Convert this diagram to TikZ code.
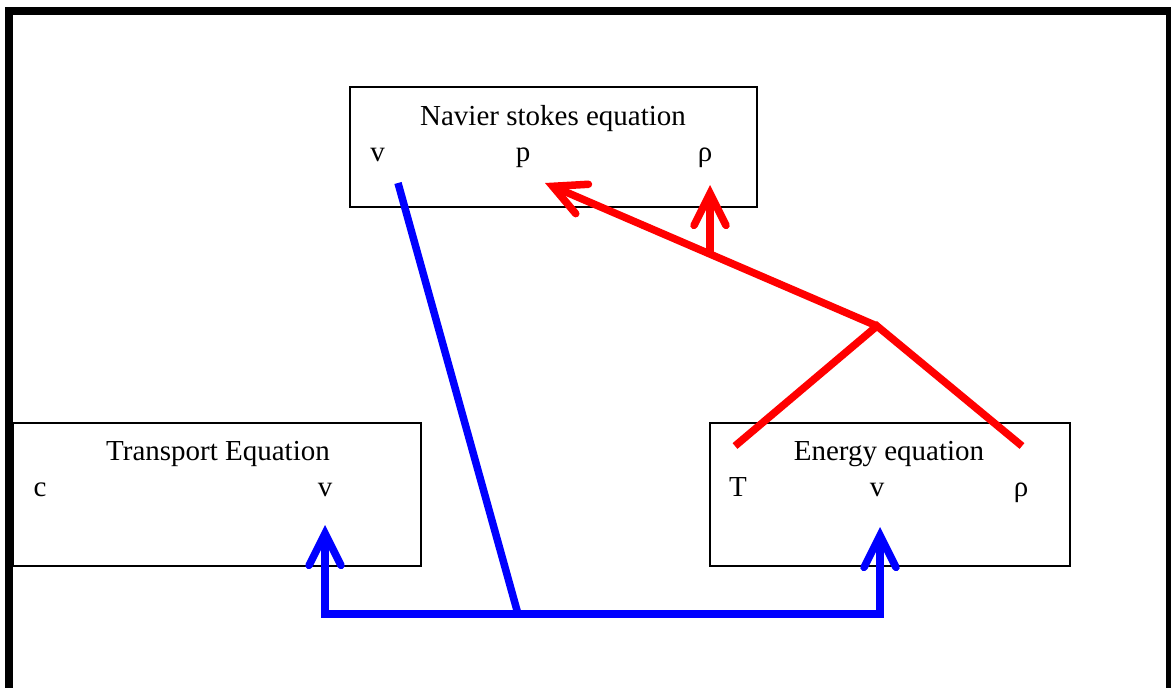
\documentclass[tikz,border=0pt]{standalone}
\usepackage{fontspec}
\setmainfont{Liberation Serif}
\usetikzlibrary{arrows.meta, positioning}

\begin{document}
\begin{tikzpicture}[x=1pt, y=-1pt,
    eqbox/.style={draw, line width=1.5pt, inner sep=0pt},
    lbl/.style={anchor=base, inner sep=0pt, font=\fontsize{29}{34}\selectfont},
    bluelink/.style={draw=blue, line width=7.5pt},
    redlink/.style={draw=red, line width=7.5pt},
    tipup/.style={-{Straight Barb[length=32pt, width=32pt, line cap=round]}}]
    \useasboundingbox (0,0) rectangle (1171,688);
    % 1. Frame
    \draw[line width=8pt] (9,11) rectangle (1170,692);

    % 2. Equation boxes
    \node[eqbox, minimum width=407pt, minimum height=120pt] (ns) at (553.5,147) {};
    \node[eqbox, minimum width=408pt, minimum height=143pt] (tr) at (217,494.5) {};
    \node[eqbox, minimum width=360pt, minimum height=143pt] (en) at (890,494.5) {};

    \node[lbl] (nstitle) at (553,125) {Navier stokes equation};
    \node[lbl] (nsv) at (377.5,161) {v};
    \node[lbl] (nsp) at (523,161) {p};
    \node[lbl] (nsrho) at (705,161) {ρ};

    \node[lbl] (trtitle) at (218,460) {Transport Equation};
    \node[lbl] (trc) at (40,496) {c};
    \node[lbl] (trv) at (325,496) {v};

    \node[lbl] (entitle) at (889,460) {Energy equation};
    \node[lbl] (enT) at (738,496) {T};
    \node[lbl] (env) at (877,496) {v};
    \node[lbl] (enrho) at (1021,496) {ρ};

    % 3. Velocity links (blue)
    \coordinate (vtop) at (398,183);
    \coordinate (bjoin) at (518,614);
    \coordinate (trtip) at (325,525);
    \coordinate (entip) at (880,527);
    \draw[bluelink] (vtop) -- (bjoin);
    \draw[bluelink, tipup] (bjoin) -| (trtip);
    \draw[bluelink, tipup] (bjoin) -| (entip);

    % 4. Energy links (red)
    \coordinate (fork) at (877,326);
    \coordinate (Tend) at (735,446);
    \coordinate (rhoend) at (1022,446);
    \coordinate (ptip) at (545,183);
    \coordinate (split) at (710,254);
    \coordinate (rhotip) at (710,185);
    \draw[redlink] (Tend) -- (fork) -- (rhoend);
    \draw[redlink, tipup] (fork) -- (ptip);
    \draw[redlink, tipup] (split) -- (rhotip);
\end{tikzpicture}
\end{document}
